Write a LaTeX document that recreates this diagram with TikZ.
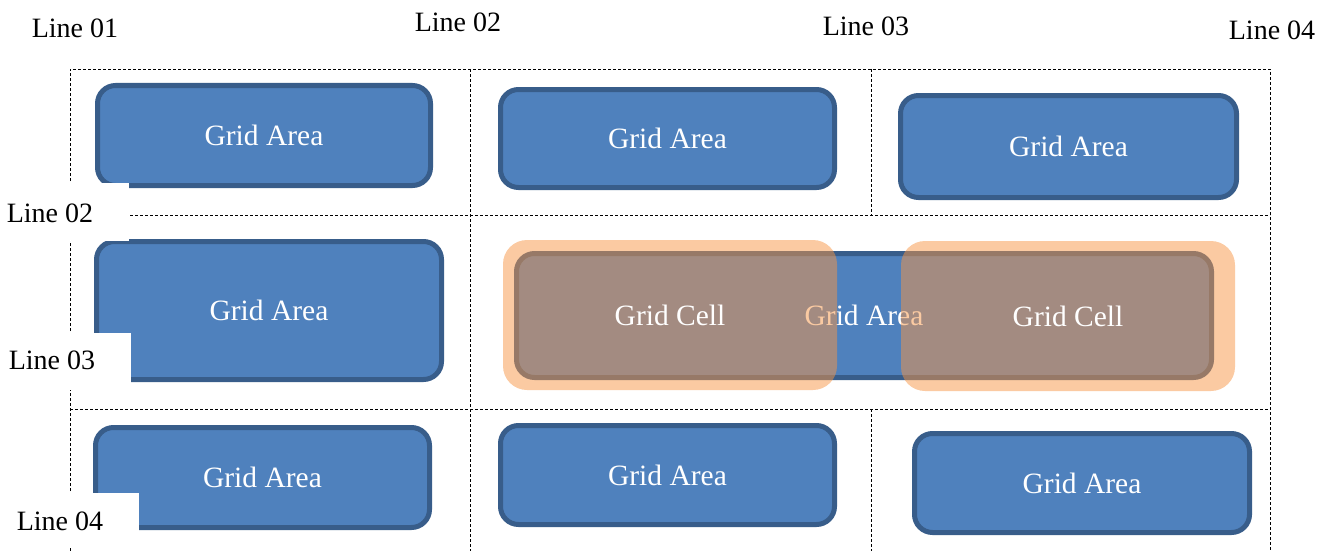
\documentclass[tikz,border=0pt]{standalone}
\usepackage{fontspec}
\setmainfont{Liberation Serif}
\definecolor{areafill}{HTML}{4F81BD}
\definecolor{areaborder}{HTML}{385D8A}
\definecolor{cellorange}{HTML}{F79646}
\tikzset{
  area/.style={draw=areaborder, fill=areafill, line width=5pt, rounded corners=18pt,
    text=white, font=\fontsize{29.5}{31}\selectfont, inner sep=0pt},
  cell/.style={fill=cellorange, fill opacity=0.5, text opacity=1, rounded corners=24pt,
    text=white, font=\fontsize{29.5}{31}\selectfont, inner sep=0pt, outer sep=0pt},
  gridline/.style={dash pattern=on 3pt off 2pt, line width=0.9pt, black},
  lbl/.style={font=\fontsize{28}{30}\selectfont, inner sep=0pt, text=black},
  labelbox/.style={fill=white, draw=none}
}
\begin{document}
\begin{tikzpicture}[x=1pt, y=-1pt]
\useasboundingbox (0,0) rectangle (1328,551);
% grid lines
\draw[gridline] (70,551) -- (70,69) -- (1270,69) -- (1270,551);
\draw[gridline] (470,69) -- (470,551);
\draw[gridline] (871,69) -- (871,215);
\draw[gridline] (871,409) -- (871,551);
\draw[gridline] (130,215) -- (1270,215);
\draw[gridline] (70,409) -- (1270,409);
% grid areas
\node[area, minimum width=333pt, minimum height=100pt] (a1) at (264,135.5) {Grid Area};
\node[area, minimum width=334pt, minimum height=98pt] (a2) at (667.5,138.5) {Grid Area};
\node[area, minimum width=336pt, minimum height=102pt] (a3) at (1068.5,146.5) {Grid Area};
\node[area, minimum width=345pt, minimum height=138pt] (a4) at (269,310.5) {Grid Area};
\node[area, minimum width=695pt, minimum height=124pt] (a5) at (864,315.5) {Grid Area};
\node[area, minimum width=334pt, minimum height=100pt] (a7) at (262.5,477.5) {Grid Area};
\node[area, minimum width=334pt, minimum height=99pt] (a8) at (667.5,475) {Grid Area};
\node[area, minimum width=335pt, minimum height=99pt] (a9) at (1082,483) {Grid Area};
% grid cells
\node[cell, minimum width=334pt, minimum height=150pt] (c1) at (670,315) {Grid Cell};
\node[cell, minimum width=334pt, minimum height=150pt] (c2) at (1068,316) {Grid Cell};
% label boxes
\fill[labelbox] (0,183) rectangle (129,241);
\fill[labelbox] (0,333) rectangle (131,390);
\fill[labelbox] (0,493) rectangle (139,548);
% labels
\node[lbl] (t1) at (75,28) {Line 01};
\node[lbl] (t2) at (458,22) {Line 02};
\node[lbl] (t3) at (866,26) {Line 03};
\node[lbl] (t4) at (1272,30) {Line 04};
\node[lbl] (l2) at (50,213) {Line 02};
\node[lbl] (l3) at (52,360) {Line 03};
\node[lbl] (l4) at (60,521) {Line 04};
\end{tikzpicture}
\end{document}
